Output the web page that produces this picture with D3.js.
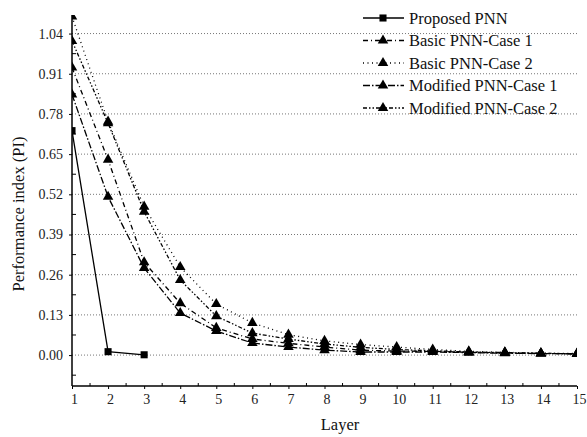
<!DOCTYPE html>
<html>
<head>
<meta charset="utf-8">
<script src="https://cdn.jsdelivr.net/npm/d3@7"></script>
<style>
  body { margin: 0; background: #fff; }
  svg { display: block; }
  text { font-family: "Liberation Serif", "Times New Roman", serif; }
</style>
</head>
<body>
<svg id="chart" width="587" height="437"></svg>
<script>
// ---- data ----
const layers = [1,2,3,4,5,6,7,8,9,10,11,12,13,14,15];
const yTicks = [0.00, 0.13, 0.26, 0.39, 0.52, 0.65, 0.78, 0.91, 1.04];
const seriesNames = ["Proposed PNN", "Basic PNN-Case 1", "Basic PNN-Case 2", "Modified PNN-Case 1", "Modified PNN-Case 2"];
const proposedPNN = [0.726, 0.011, 0.001];
const basicCase1 = [0.930, 0.632, 0.300, 0.168, 0.088, 0.052, 0.038, 0.026, 0.016, 0.013, 0.012, 0.009, 0.007, 0.005, 0.004];
const basicCase2 = [1.095, 0.755, 0.480, 0.285, 0.165, 0.104, 0.066, 0.046, 0.034, 0.026, 0.018, 0.012, 0.009, 0.006, 0.005];
const modifiedCase1 = [0.843, 0.512, 0.282, 0.136, 0.078, 0.039, 0.026, 0.016, 0.010, 0.010, 0.010, 0.008, 0.006, 0.005, 0.004];
const modifiedCase2 = [1.016, 0.750, 0.464, 0.243, 0.126, 0.071, 0.052, 0.036, 0.025, 0.018, 0.014, 0.010, 0.008, 0.006, 0.004];

const seriesValues = [proposedPNN, basicCase1, basicCase2, modifiedCase1, modifiedCase2];
const dashes = [null, "5,3,1,3", "1,3.5", "7,2,1.5,2", "4,2,1.5,2,1.5,2"];
const symbols = [d3.symbolSquare, d3.symbolTriangle, d3.symbolTriangle, d3.symbolTriangle, d3.symbolTriangle];
const symSizes = [50, 48, 48, 48, 48];
const FONT = '"Liberation Serif", "Times New Roman", serif';

// ---- layout ----
const svg = d3.select("#chart");
const L = 72, R = 577, T = 15, B = 386;
const x = d3.scaleLinear().domain([1, 15]).range([L, R]);
const y = d3.scaleLinear().domain([-0.1, 1.1]).range([B, T]);

svg.append("defs").append("clipPath").attr("id", "clip")
  .append("rect").attr("x", L).attr("y", T).attr("width", R - L).attr("height", B - T);

// grid lines
svg.append("g").selectAll("line").data(yTicks).join("line")
  .attr("x1", L).attr("x2", R)
  .attr("y1", d => y(d)).attr("y2", d => y(d))
  .attr("stroke", "#777").attr("stroke-width", 1)
  .attr("stroke-dasharray", "1,2");

// axes
const yAxis = d3.axisLeft(y).tickValues(yTicks).tickFormat(d3.format(".2f")).tickSize(3).tickPadding(6);
const gy = svg.append("g").attr("transform", `translate(${L},0)`).call(yAxis);
const xAxis = d3.axisBottom(x).tickValues(layers).tickFormat(d3.format("d")).tickSize(3).tickPadding(5);
const gx = svg.append("g").attr("transform", `translate(0,${B})`).call(xAxis);
[gx, gy].forEach(g => {
  g.attr("font-family", FONT).attr("font-size", 14);
  g.select(".domain").attr("stroke", "#000").attr("stroke-width", 1.5);
  g.selectAll(".tick line").attr("stroke", "#000");
  g.selectAll(".tick text").attr("fill", "#222");
});
gy.select(".domain").attr("d", `M0,${T}V${B}`);
gx.select(".domain").attr("d", `M${L},0H${R}`);
gx.selectAll(".tick text").attr("dx", 2);

// minor inward ticks
const yMinor = d3.range(-0.065, 1.1, 0.13);
svg.append("g").selectAll("line").data(yMinor).join("line")
  .attr("x1", L).attr("x2", L + 4)
  .attr("y1", d => y(d)).attr("y2", d => y(d))
  .attr("stroke", "#000");
const xMinor = d3.range(1.5, 15, 1);
svg.append("g").selectAll("line").data(xMinor).join("line")
  .attr("x1", d => x(d)).attr("x2", d => x(d))
  .attr("y1", B).attr("y2", B - 3)
  .attr("stroke", "#000");

// series
const plot = svg.append("g").attr("clip-path", "url(#clip)");
const line = d3.line().x(d => x(d[0])).y(d => y(d[1]));
seriesValues.forEach((vals, i) => {
  const pts = vals.map((v, j) => [layers[j], v]);
  plot.append("path").datum(pts)
    .attr("d", line).attr("fill", "none")
    .attr("stroke", "#000").attr("stroke-width", 1.3)
    .attr("stroke-dasharray", dashes[i]);
  plot.append("g").selectAll("path").data(pts).join("path")
    .attr("transform", d => `translate(${x(d[0])},${y(d[1])})`)
    .attr("d", d3.symbol().type(symbols[i]).size(symSizes[i]))
    .attr("fill", "#000");
});

// legend
const lg = svg.append("g").attr("font-family", FONT);
seriesNames.forEach((name, i) => {
  const yy = 18 + i * 22.5;
  lg.append("line").attr("x1", 363).attr("x2", 404).attr("y1", yy).attr("y2", yy)
    .attr("stroke", "#000").attr("stroke-width", 1.3).attr("stroke-dasharray", dashes[i]);
  lg.append("path").attr("transform", `translate(383,${yy})`)
    .attr("d", d3.symbol().type(symbols[i]).size(symSizes[i])).attr("fill", "#000");
  lg.append("text").attr("x", 409).attr("y", yy).attr("dy", "0.35em")
    .attr("font-family", FONT).attr("font-size", 16.5).attr("fill", "#111").text(name);
});

// axis titles
svg.append("text").attr("x", 340).attr("y", 430).attr("text-anchor", "middle")
  .attr("font-family", FONT).attr("font-size", 16.5).attr("fill", "#111").text("Layer");
svg.append("text").attr("transform", "translate(24,214) rotate(-90)")
  .attr("text-anchor", "middle")
  .attr("font-family", FONT).attr("font-size", 16.5).attr("fill", "#111").text("Performance index (PI)");
</script>
</body>
</html>
